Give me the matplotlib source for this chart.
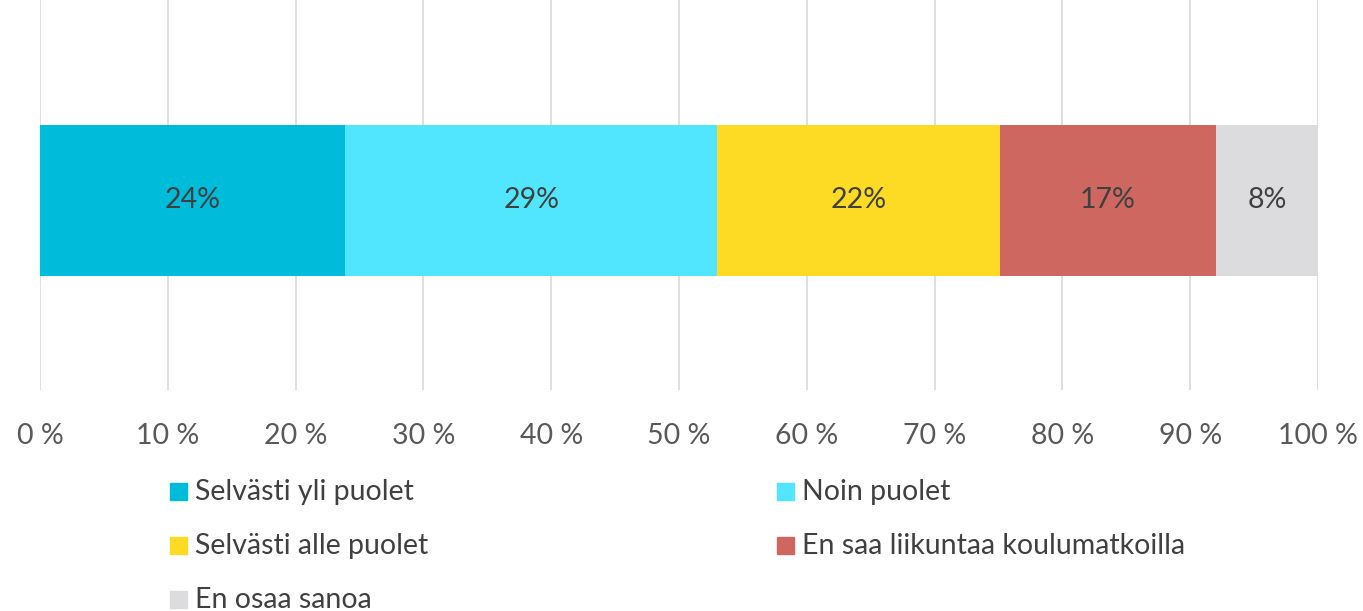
import numpy as np
import matplotlib.pyplot as plt
from matplotlib.patches import Rectangle

categories = ['Selvästi yli puolet', 'Noin puolet', 'Selvästi alle puolet',
              'En saa liikuntaa koulumatkoilla', 'En osaa sanoa']
values = [23.9, 29.1, 22.1, 16.9, 8.0]
labels = ['24%', '29%', '22%', '17%', '8%']
colors = ['#00BCDB', '#52E5FE', '#FDDA24', '#CD6760', '#DCDCDE']
ticks = np.arange(0, 101, 10)
tick_labels = ['%d %%' % t for t in ticks]

plt.rcParams['font.family'] = ['Lato', 'DejaVu Sans']
fs = 20.5

fig = plt.figure(figsize=(13.63, 6.11), dpi=100)
ax = fig.add_axes([40/1363, 1-390/611, 1278/1363, 390/611])

left = 0
for v, c, l in zip(values, colors, labels):
    ax.barh(0, v, left=left, height=0.387, color=c, zorder=2)
    ax.text(left + v/2, 0, l, ha='center', va='center', fontsize=fs, color='#404040', zorder=3)
    left += v

ax.set_xlim(0, 100)
ax.set_ylim(-0.486, 0.514)
ax.set_xticks(ticks)
ax.set_xticklabels(tick_labels, fontsize=fs, color='#595959')
ax.tick_params(axis='x', length=0, pad=24)
ax.set_yticks([])
ax.grid(axis='x', color='#D9D9D9', linewidth=1.2, zorder=0)
for s in ax.spines.values():
    s.set_visible(False)

# legend, placed by hand like the original
leg_pos = [(170, 492), (777, 492), (170, 546), (777, 546), (170, 600)]
for (px, py), c, name in zip(leg_pos, colors, categories):
    fig.add_artist(Rectangle((px/1363, 1-(py+8)/611), 17/1363, 17/611,
                             transform=fig.transFigure, color=c))
    fig.text((px+25)/1363, 1-py/611, name, fontsize=fs, color='#404040', va='center')

fig.savefig('out.png', dpi=100)
